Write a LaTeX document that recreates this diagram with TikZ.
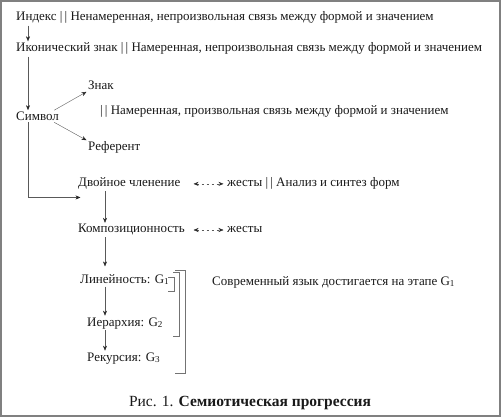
\documentclass[tikz,border=0pt]{standalone}
\usepackage{fontspec}
\setmainfont{Liberation Serif}
\usetikzlibrary{arrows.meta}
\definecolor{framegray}{gray}{0.5}
\definecolor{linegray}{gray}{0.35}
\definecolor{bracketgray}{gray}{0.45}

\begin{document}
\begin{tikzpicture}[x=1pt, y=-1pt, font=\fontsize{13}{15}\selectfont,
  txt/.style={anchor=base west, inner sep=1.5pt, text=black!90},
  link/.style={linegray, thin, -{Stealth[length=5pt, width=4pt, color=black!85]}},
  gest/.style={linegray, thin, {Stealth[length=5pt, width=4pt, color=black!85]}-{Stealth[length=5pt, width=4pt, color=black!85]}, dash pattern=on 2pt off 3pt}]
\useasboundingbox (0,0) rectangle (501,417);
\draw[framegray, line width=2pt] (1,1) rectangle (500,416);
\coordinate (spine) at (28,0);
\coordinate (axis) at (105,0);
% upper chain
\node[txt] (ind) at (14.5,21) {Индекс |\,| Ненамеренная, непроизвольная связь между формой и значением};
\node[txt] (ikon) at (14.5,52) {Иконический знак |\,| Намеренная, непроизвольная связь между формой и значением};
\node[txt] (sym) at (14.5,120.5) {Символ};
\node[txt] (znak) at (86.5,90) {Знак};
\node[txt] (symdef) at (98.5,115) {|\,| Намеренная, произвольная связь между формой и значением};
\node[txt] (ref) at (86.5,151) {Референт};
\draw[link] (ind.south -| spine) -- (ikon.north -| spine);
\draw[link] (ikon.south -| spine) -- (sym.north -| spine);
\draw[link] (sym.20) -- (znak.south west);
\draw[link] (sym.-20) -- (ref.north west);
% lower chain
\node[txt] (dvoi) at (76.5,187) {Двойное членение};
\node[txt] (dvoig) at (225.5,187) {жесты |\,| Анализ и синтез форм};
\node[txt] (komp) at (76.5,233) {Композиционность};
\node[txt] (kompg) at (225.5,233) {жесты};
\node[txt] (lin) at (78.5,283) {Линейность: G\textsubscript{1}};
\node[txt] (ier) at (85.5,326) {Иерархия: G\textsubscript{2}};
\node[txt] (rek) at (85.5,361) {Рекурсия: G\textsubscript{3}};
\node[txt] (mod) at (210.5,285) {Современный язык достигается на этапе G\textsubscript{1}};
\draw[link] (sym.south -| spine) |- ([xshift=4pt, yshift=-6pt]dvoi.south west);
\draw[gest] ([xshift=-32pt]dvoig.west) -- ([xshift=-2pt]dvoig.west);
\draw[gest] ([xshift=-32pt]kompg.west) -- ([xshift=-2pt]kompg.west);
\draw[link] (dvoi.south -| axis) -- (komp.north -| axis);
\draw[link, shorten >=6pt] (komp.south -| axis) -- (lin.north -| axis);
\draw[link] (lin.south -| axis) -- (ier.north -| axis);
\draw[link] (ier.south -| axis) -- (rek.north -| axis);
% brackets
\foreach \l/\r/\t/\b in {168/174/277/291, 173/179/272/336, 175/185/270/373}
  \draw[bracketgray] (\l,\t) -- (\r,\t) -- (\r,\b) -- (\l,\b);
\node[anchor=base, inner sep=0pt, text=black!90, font=\fontsize{15.5}{18}\selectfont] (cap) at (250,406) {Рис. 1. \textbf{Семиотическая прогрессия}};
\end{tikzpicture}
\end{document}
